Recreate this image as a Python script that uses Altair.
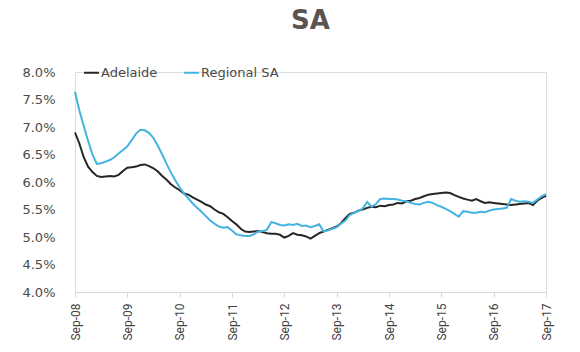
import altair as alt
import pandas as pd

tick_labels = ["Sep-08", "Sep-09", "Sep-10", "Sep-11", "Sep-12",
               "Sep-13", "Sep-14", "Sep-15", "Sep-16", "Sep-17"]

adelaide = [
    6.90, 6.70, 6.45, 6.28, 6.18, 6.11, 6.09, 6.10, 6.11, 6.10,
    6.13, 6.20, 6.26, 6.27, 6.28, 6.31, 6.32, 6.29, 6.25, 6.19,
    6.11, 6.04, 5.96, 5.90, 5.85, 5.79, 5.77, 5.72, 5.68, 5.64,
    5.59, 5.56, 5.50, 5.45, 5.42, 5.36, 5.29, 5.23, 5.15, 5.10,
    5.09, 5.10, 5.11, 5.09, 5.07, 5.06, 5.06, 5.04, 4.99, 5.02,
    5.07, 5.04, 5.03, 5.01, 4.97, 5.02, 5.07, 5.10, 5.13, 5.16,
    5.19, 5.25, 5.34, 5.42, 5.44, 5.48, 5.50, 5.53, 5.55, 5.54,
    5.57, 5.56, 5.58, 5.59, 5.62, 5.61, 5.65, 5.66, 5.69, 5.71,
    5.74, 5.77, 5.78, 5.79, 5.80, 5.81, 5.80, 5.76, 5.73, 5.70,
    5.68, 5.66, 5.69, 5.65, 5.62, 5.63, 5.62, 5.61, 5.60, 5.59,
    5.58, 5.59, 5.60, 5.61, 5.62, 5.58, 5.66, 5.71, 5.75,
]

regional = [
    7.64, 7.30, 7.02, 6.75, 6.50, 6.33, 6.34, 6.37, 6.40, 6.45,
    6.52, 6.58, 6.65, 6.76, 6.88, 6.95, 6.94, 6.89, 6.80, 6.66,
    6.50, 6.33, 6.17, 6.03, 5.90, 5.79, 5.70, 5.61, 5.53, 5.46,
    5.38, 5.30, 5.24, 5.19, 5.17, 5.18, 5.12, 5.05, 5.03, 5.02,
    5.02, 5.05, 5.10, 5.11, 5.13, 5.27, 5.25, 5.22, 5.21, 5.23,
    5.22, 5.24, 5.20, 5.21, 5.18, 5.20, 5.23, 5.10, 5.12, 5.15,
    5.18, 5.24, 5.30, 5.40, 5.44, 5.47, 5.52, 5.64, 5.55, 5.60,
    5.69, 5.70, 5.69, 5.69, 5.68, 5.66, 5.65, 5.62, 5.60, 5.59,
    5.62, 5.64, 5.62, 5.58, 5.55, 5.51, 5.47, 5.42, 5.37, 5.47,
    5.46, 5.44, 5.44, 5.46, 5.45, 5.48, 5.50, 5.51, 5.52, 5.53,
    5.69, 5.66, 5.64, 5.65, 5.64, 5.62, 5.68, 5.74, 5.78,
]

series_names = ["Adelaide", "Regional SA"]
series_colors = ["#262626", "#45b3df"]

rows = []
for i, v in enumerate(adelaide):
    rows.append({"m": i, "rate": v, "series": series_names[0]})
for i, v in enumerate(regional):
    rows.append({"m": i, "rate": v, "series": series_names[1]})
df = pd.DataFrame(rows)

label_array = "[" + ",".join("'" + t + "'" for t in tick_labels) + "]"

chart = alt.Chart(df).mark_line(strokeWidth=2).encode(
    x=alt.X("m:Q",
            scale=alt.Scale(domain=[0, 108], nice=False, zero=False),
            axis=alt.Axis(values=list(range(0, 109, 12)),
                          labelExpr=label_array + "[round(datum.value/12)]",
                          labelAngle=-90, labelAlign="right", labelBaseline="middle",
                          labelFont="Roboto", labelFontSize=12,
                          labelColor="#404040", labelPadding=6,
                          domainColor="#d9d9d9", tickColor="#d9d9d9", tickSize=5,
                          grid=False, title=None)),
    y=alt.Y("rate:Q",
            scale=alt.Scale(domain=[4, 8], nice=False, zero=False),
            axis=alt.Axis(values=[4, 4.5, 5, 5.5, 6, 6.5, 7, 7.5, 8],
                          labelExpr="format(datum.value, '.1f') + '%'",
                          labelFont="DejaVu Sans", labelFontSize=13,
                          labelColor="#4a4a4a", labelPadding=20,
                          domain=False, ticks=False, grid=False, title=None)),
    color=alt.Color("series:N",
                    scale=alt.Scale(domain=series_names, range=series_colors),
                    legend=alt.Legend(orient="none", legendX=8, legendY=-8,
                                      direction="horizontal", title=None,
                                      symbolType="stroke", symbolSize=220,
                                      symbolStrokeWidth=2,
                                      labelFont="DejaVu Sans", labelFontSize=13,
                                      labelColor="#4a4a4a", columnPadding=22,
                                      labelOffset=1)),
).properties(
    width=471, height=220,
    title=alt.TitleParams("SA", fontSize=26, font="DejaVu Sans",
                          fontWeight="bold", color="#5a5350", offset=30,
                          anchor="middle"),
    autosize=alt.AutoSizeParams(type="none"),
    padding={"left": 75, "top": 72, "right": 34, "bottom": 60},
).configure_view(stroke=None).configure(background="white")

chart.save("out.html", embed_options={"renderer": "svg", "actions": False})
